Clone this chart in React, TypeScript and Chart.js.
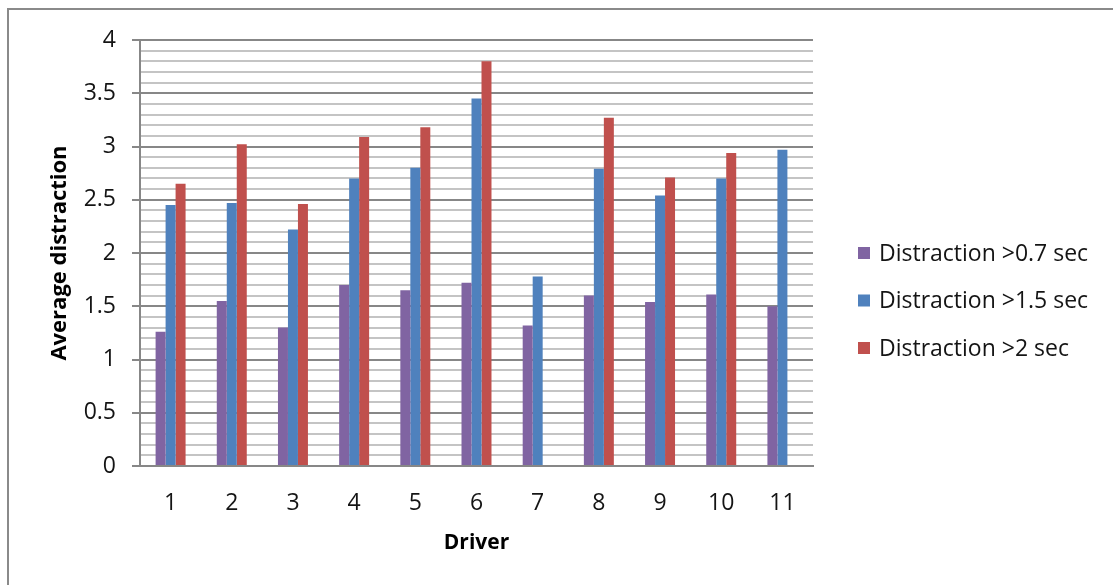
import React, { useEffect, useRef } from "react";
import { Chart, registerables } from "chart.js";

Chart.register(...registerables);

// Drivers on the x axis
const drivers = ["1", "2", "3", "4", "5", "6", "7", "8", "9", "10", "11"];

// Average distraction per driver for each threshold
const over07 = [1.26, 1.55, 1.3, 1.7, 1.65, 1.72, 1.32, 1.6, 1.54, 1.61, 1.5];
const over15 = [2.45, 2.47, 2.22, 2.7, 2.8, 3.45, 1.78, 2.79, 2.54, 2.7, 2.97];
const over2 = [2.65, 3.02, 2.46, 3.09, 3.18, 3.8, null, 3.27, 2.71, 2.94, null];

const seriesLabels = [
  "Distraction >0.7 sec",
  "Distraction >1.5 sec",
  "Distraction >2 sec",
];
const seriesColors = ["#8064A2", "#4F81BD", "#C0504D"];

const FONT = "'Open Sans', sans-serif";
const TEXT = "#141414";
const MAJOR = "#878787";
const MINOR = "#c4c4c4";

const isMajor = (v: number) => Math.abs(v * 2 - Math.round(v * 2)) < 1e-6;

// Legend drawn to the right of the plot, one row per series
const sideLegend = {
  id: "sideLegend",
  afterDraw(chart: any) {
    const { ctx } = chart;
    const x = chart.chartArea.right + 45;
    const y0 = 253;
    const step = 47.5;
    ctx.save();
    ctx.font = `23px ${FONT}`;
    ctx.textBaseline = "middle";
    ctx.textAlign = "left";
    chart.data.datasets.forEach((ds: any, i: number) => {
      const y = y0 + i * step;
      ctx.fillStyle = ds.backgroundColor;
      ctx.fillRect(x, y - 6, 12, 12);
      ctx.fillStyle = TEXT;
      ctx.fillText(ds.label, x + 21, y + 1);
    });
    ctx.restore();
  },
};

export default function App() {
  const canvasRef = useRef<HTMLCanvasElement | null>(null);

  useEffect(() => {
    const canvas = canvasRef.current;
    if (!canvas) return;
    const values = [over07, over15, over2];
    const chart = new Chart(canvas, {
      type: "bar",
      data: {
        labels: drivers,
        datasets: values.map((data, i) => ({
          label: seriesLabels[i],
          data,
          backgroundColor: seriesColors[i],
          borderWidth: 0,
          categoryPercentage: 0.49,
          barPercentage: 1,
        })),
      },
      options: {
        animation: false,
        responsive: false,
        layout: { padding: { top: 40, right: 300, bottom: 0, left: 0 } },
        plugins: {
          legend: { display: false },
          tooltip: { enabled: false },
        },
        scales: {
          x: {
            afterFit: (scale: any) => {
              scale.height = 119;
            },
            grid: { display: false },
            border: { display: true, color: MAJOR, width: 2 },
            ticks: {
              font: { family: FONT, size: 23 },
              color: TEXT,
              padding: 16,
            },
            title: {
              display: true,
              text: "Driver",
              font: { family: FONT, size: 21, weight: "bold" },
              color: "#000",
              padding: { top: 0, bottom: 29 },
            },
          },
          y: {
            min: 0,
            max: 4,
            afterFit: (scale: any) => {
              scale.width = 140;
            },
            grid: {
              color: (c: any) => (c.tick && isMajor(c.tick.value) ? MAJOR : MINOR),
              tickColor: (c: any) =>
                c.tick && isMajor(c.tick.value) ? MAJOR : "rgba(0,0,0,0)",
              lineWidth: 2,
              tickLength: 8,
            },
            border: { display: true, color: MAJOR, width: 2 },
            ticks: {
              stepSize: 0.1,
              autoSkip: false,
              maxTicksLimit: 100,
              font: { family: FONT, size: 23 },
              color: TEXT,
              padding: 16,
              callback: (v: any) =>
                isMajor(Number(v)) ? String(Number(Number(v).toFixed(1))) : "",
            },
            title: {
              display: true,
              text: "Average distraction",
              font: { family: FONT, size: 22, weight: "bold" },
              color: "#000",
              padding: { top: 47, bottom: 0 },
            },
          },
        },
      },
      plugins: [sideLegend],
    });
    return () => chart.destroy();
  }, []);

  return (
    <div
      style={{
        position: "fixed",
        left: 0,
        top: 0,
        width: 1113,
        height: 585,
        background: "#fff",
        overflow: "hidden",
      }}
    >
      <div
        style={{
          position: "absolute",
          left: 7,
          top: 8,
          width: 1200,
          height: 700,
          borderLeft: "2px solid #8a8a8a",
          borderTop: "2px solid #8a8a8a",
        }}
      />
      <canvas
        ref={canvasRef}
        width={1113}
        height={585}
        style={{ position: "absolute", left: 0, top: 0, width: 1113, height: 585 }}
      />
    </div>
  );
}
